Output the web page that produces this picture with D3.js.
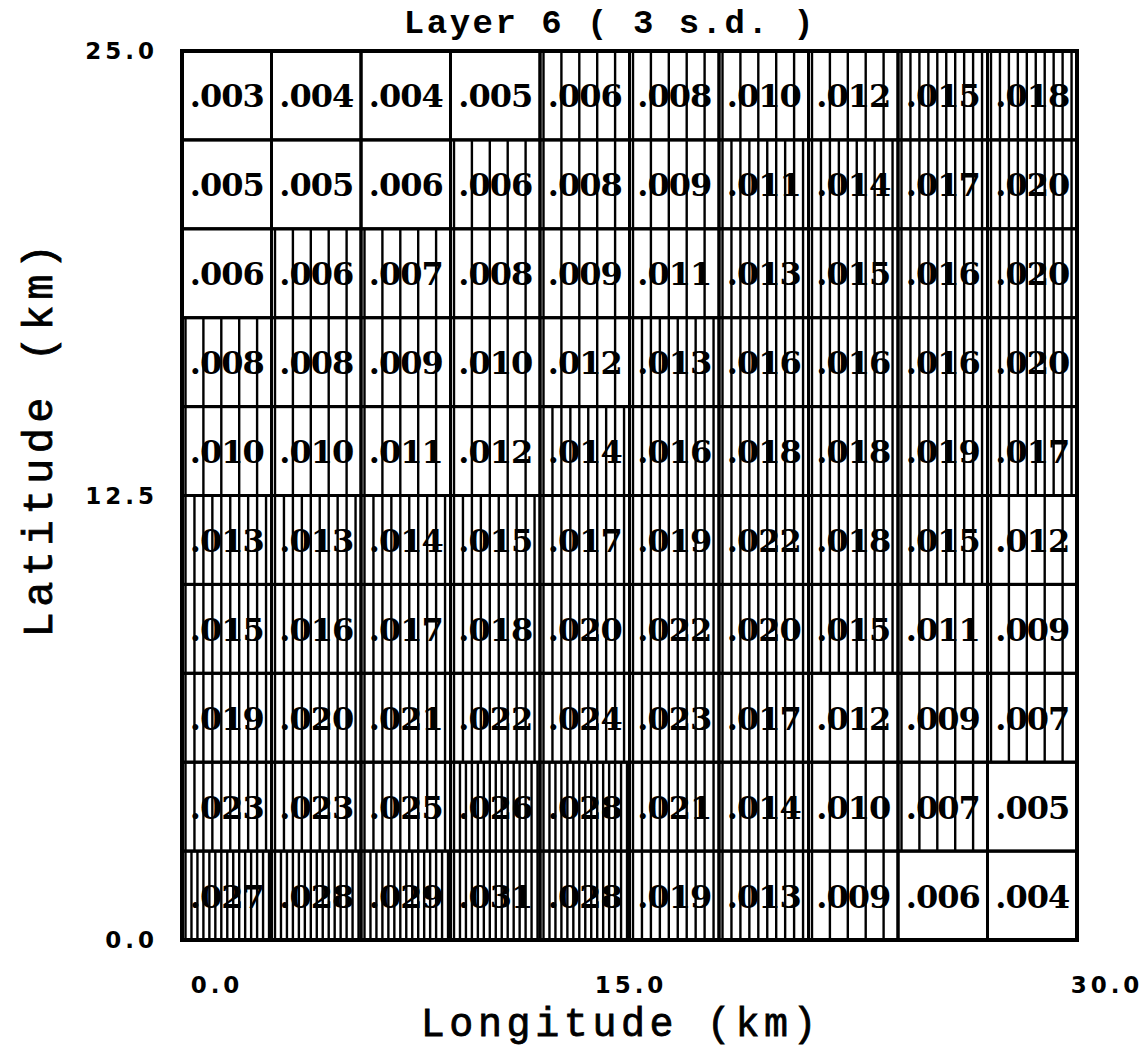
<!DOCTYPE html>
<html>
<head>
<meta charset="utf-8">
<script src="https://cdn.jsdelivr.net/npm/d3@7"></script>
<style>
  body { margin: 0; background: #fff; }
  svg { display: block; }
</style>
</head>
<body>
<div id="chart"></div>
<script>
// cell values, top row (latitude 25) first, columns west to east
var row0 = [".003", ".004", ".004", ".005", ".006", ".008", ".010", ".012", ".015", ".018"];
var row1 = [".005", ".005", ".006", ".006", ".008", ".009", ".011", ".014", ".017", ".020"];
var row2 = [".006", ".006", ".007", ".008", ".009", ".011", ".013", ".015", ".016", ".020"];
var row3 = [".008", ".008", ".009", ".010", ".012", ".013", ".016", ".016", ".016", ".020"];
var row4 = [".010", ".010", ".011", ".012", ".014", ".016", ".018", ".018", ".019", ".017"];
var row5 = [".013", ".013", ".014", ".015", ".017", ".019", ".022", ".018", ".015", ".012"];
var row6 = [".015", ".016", ".017", ".018", ".020", ".022", ".020", ".015", ".011", ".009"];
var row7 = [".019", ".020", ".021", ".022", ".024", ".023", ".017", ".012", ".009", ".007"];
var row8 = [".023", ".023", ".025", ".026", ".028", ".021", ".014", ".010", ".007", ".005"];
var row9 = [".027", ".028", ".029", ".031", ".028", ".019", ".013", ".009", ".006", ".004"];
var values = [row0, row1, row2, row3, row4, row5, row6, row7, row8, row9];

// hatch level of each cell (0 = blank .. 3 = densest)
var levels = [
  [0, 0, 0, 0, 1, 1, 1, 1, 2, 2],
  [0, 0, 0, 1, 1, 1, 2, 2, 2, 2],
  [0, 1, 1, 1, 1, 1, 2, 2, 2, 2],
  [1, 1, 1, 1, 1, 2, 2, 2, 2, 2],
  [1, 1, 1, 1, 2, 2, 2, 2, 2, 2],
  [2, 2, 2, 2, 2, 2, 2, 2, 2, 1],
  [2, 2, 2, 2, 2, 2, 2, 2, 1, 1],
  [2, 2, 2, 2, 2, 2, 2, 1, 1, 1],
  [2, 2, 2, 3, 3, 2, 2, 1, 1, 0],
  [3, 3, 3, 3, 3, 2, 2, 1, 0, 0]
];
var linesPerLevel = [0, 5, 10, 15];

var xTicks = [0, 15, 30];
var yTicks = [0, 12.5, 25];
var title = "Layer 6 ( 3 s.d. )";
var xTitle = "Longitude (km)";
var yTitle = "Latitude (km)";

var width = 1142, height = 1050;

var svg = d3.select("#chart").append("svg")
    .attr("width", width)
    .attr("height", height);

svg.append("rect").attr("width", width).attr("height", height).attr("fill", "#fff");

var x = d3.scaleBand().domain(d3.range(10)).range([182, 1077]);
var y = d3.scaleBand().domain(d3.range(10)).range([51, 940]);

// flatten the grid into cells
var cells = [];
values.forEach(function(row, r) {
  row.forEach(function(v, c) {
    cells.push({r: r, c: c, v: v, n: linesPerLevel[levels[r][c]]});
  });
});

var g = svg.append("g");

// hatch lines
var hatch = [];
cells.forEach(function(d) {
  var step = x.bandwidth() / d.n;
  d3.range(d.n).forEach(function(i) {
    hatch.push({x: x(d.c) + 3.5 + i * step, y0: y(d.r), y1: y(d.r) + y.bandwidth()});
  });
});

g.selectAll(".hatch")
  .data(hatch)
  .enter().append("line")
  .attr("class", "hatch")
  .attr("x1", function(d) { return d.x; })
  .attr("x2", function(d) { return d.x; })
  .attr("y1", function(d) { return d.y0; })
  .attr("y2", function(d) { return d.y1; })
  .attr("stroke", "#000")
  .attr("stroke-width", 2.4);

// values
g.selectAll(".val")
  .data(cells)
  .enter().append("text")
  .attr("class", "val")
  .attr("x", function(d) { return x(d.c) + x.bandwidth() / 2; })
  .attr("y", function(d) { return y(d.r) + y.bandwidth() / 2 + 12; })
  .attr("text-anchor", "middle")
  .style("font-family", "'DejaVu Serif', serif")
  .style("font-weight", "bold")
  .style("font-size", "32px")
  .style("letter-spacing", "-1px")
  .text(function(d) { return d.v; });

// cell borders
g.selectAll(".cell")
  .data(cells)
  .enter().append("rect")
  .attr("class", "cell")
  .attr("x", function(d) { return x(d.c); })
  .attr("y", function(d) { return y(d.r); })
  .attr("width", x.bandwidth())
  .attr("height", y.bandwidth())
  .attr("fill", "none")
  .attr("stroke", "#000")
  .attr("stroke-width", 3);

g.append("rect")
  .attr("x", x.range()[0])
  .attr("y", y.range()[0])
  .attr("width", x.range()[1] - x.range()[0])
  .attr("height", y.range()[1] - y.range()[0])
  .attr("fill", "none")
  .attr("stroke", "#000")
  .attr("stroke-width", 4);

// axes labels
var yAxisScale = d3.scaleLinear().domain([0, 25]).range([940, 51]);
svg.selectAll(".ytick")
  .data(yTicks)
  .enter().append("text")
  .attr("class", "ytick")
  .attr("x", 158)
  .attr("y", function(d) { return yAxisScale(d) + 8; })
  .attr("text-anchor", "end")
  .style("font-family", "'DejaVu Sans', sans-serif")
  .style("font-weight", "bold")
  .style("font-size", "23px")
  .style("letter-spacing", "4px")
  .text(function(d) { return d3.format(".1f")(d); });

var xAxisScale = d3.scaleLinear().domain([0, 15, 30]).range([217, 631, 1107]);
svg.selectAll(".xtick")
  .data(xTicks)
  .enter().append("text")
  .attr("class", "xtick")
  .attr("x", function(d) { return xAxisScale(d); })
  .attr("y", 993)
  .attr("text-anchor", "middle")
  .style("font-family", "'DejaVu Sans', sans-serif")
  .style("font-weight", "bold")
  .style("font-size", "23px")
  .style("letter-spacing", "4px")
  .text(function(d) { return d3.format(".1f")(d); });

svg.append("text")
  .attr("x", 610)
  .attr("y", 33)
  .attr("text-anchor", "middle")
  .style("font-family", "'Liberation Mono', monospace")
  .style("font-weight", "bold")
  .style("font-size", "34px")
  .style("letter-spacing", "2.5px")
  .text(title);

svg.append("text")
  .attr("x", 621)
  .attr("y", 1036)
  .attr("text-anchor", "middle")
  .style("font-family", "'Liberation Mono', monospace")
  .style("font-size", "40px")
  .style("letter-spacing", "4.6px")
  .style("stroke", "#000")
  .style("stroke-width", "0.8px")
  .text(xTitle);

svg.append("text")
  .attr("transform", "translate(52,438) rotate(-90)")
  .attr("text-anchor", "middle")
  .style("font-family", "'Liberation Mono', monospace")
  .style("font-size", "42px")
  .style("letter-spacing", "5.5px")
  .style("stroke", "#000")
  .style("stroke-width", "0.8px")
  .text(yTitle);
</script>
</body>
</html>
